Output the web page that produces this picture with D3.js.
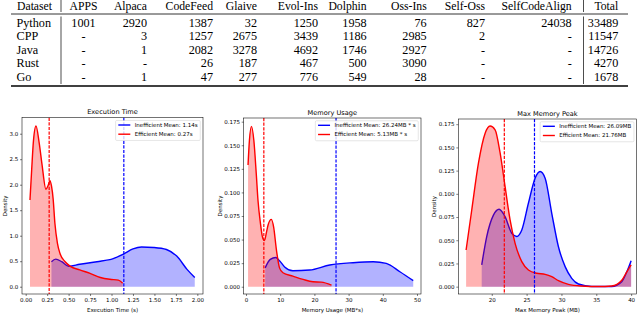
<!DOCTYPE html>
<html>
<head>
<meta charset="utf-8">
<script src="https://cdnjs.cloudflare.com/ajax/libs/d3/7.8.5/d3.min.js"></script>
<style>
body { margin: 0; background: #fff; }
svg { display: block; }
</style>
</head>
<body>
<svg width="640" height="314"></svg>
<script>
//Table data
var datasets = ['APPS', 'Alpaca', 'CodeFeed', 'Glaive', 'Evol-Ins', 'Dolphin', 'Oss-Ins', 'Self-Oss', 'SelfCodeAlign', 'Total'];
var languages = ['Python', 'CPP', 'Java', 'Rust', 'Go'];
var pythonCounts = ['1001', '2920', '1387', '32', '1250', '1958', '76', '827', '24038', '33489'];
var cppCounts = ['-', '3', '1257', '2675', '3439', '1186', '2985', '2', '-', '11547'];
var javaCounts = ['-', '1', '2082', '3278', '4692', '1746', '2927', '-', '-', '14726'];
var rustCounts = ['-', '-', '26', '187', '467', '500', '3090', '-', '-', '4270'];
var goCounts = ['-', '1', '47', '277', '776', '549', '28', '-', '-', '1678'];

//Density curves, [value, density]
var execInefficient = [[0.30,0.49],[0.35,0.54],[0.42,0.49],[0.50,0.40],[0.63,0.44],[0.83,0.49],[1.02,0.55],
    [1.14,0.64],[1.25,0.74],[1.35,0.78],[1.49,0.77],[1.64,0.73],[1.76,0.60],[1.88,0.34],[1.97,0.18]];
var execEfficient = [[0.05,1.70],[0.07,2.30],[0.09,2.85],[0.12,3.15],[0.158,2.81],[0.19,2.40],[0.236,1.91],
    [0.26,1.98],[0.283,2.08],[0.30,1.98],[0.32,1.72],[0.34,1.25],[0.37,0.85],[0.40,0.65],[0.46,0.49],
    [0.52,0.40],[0.63,0.33],[0.75,0.26],[0.87,0.18],[0.98,0.145],[1.08,0.13],[1.13,0.07]];
var memInefficient = [[5.6,0.020],[7.1,0.029],[8.7,0.031],[9.8,0.0276],[11.3,0.021],[13.7,0.017],[18.6,0.0177],
    [24.5,0.023],[31.3,0.0255],[37.2,0.0265],[41.0,0.0247],[45.0,0.0159],[48.9,0.0064]];
var memEfficient = [[0.6,0.129],[1.0,0.155],[1.6,0.170],[2.3,0.155],[3.0,0.120],[3.5,0.092],[4.2,0.068],
    [4.8,0.053],[5.4,0.049],[6.0,0.058],[6.5,0.066],[7.4,0.0714],[8.1,0.063],[8.9,0.039],[9.8,0.020],
    [10.8,0.0148],[13.7,0.0113],[16.7,0.0078],[19.6,0.0053],[22.0,0.0049],[25.0,0.0018]];
var peakInefficient = [[18.56,0.0234],[19.28,0.054],[20.24,0.077],[21.05,0.0834],[21.91,0.0755],[22.87,0.0575],
    [23.59,0.054],[24.31,0.061],[25.26,0.0898],[26.22,0.1168],[26.94,0.124],[27.66,0.1168],[28.61,0.079],
    [29.57,0.043],[30.53,0.0216],[31.48,0.009],[32.44,0.0029],[34.35,0.0002],[37.2,0.0002],[38.66,0.0054],
    [39.38,0.016],[40.0,0.028]];
var peakEfficient = [[16.32,0.0395],[17.13,0.0826],[18.09,0.133],[19.04,0.165],[19.76,0.173],[20.48,0.169],
    [21.2,0.144],[21.91,0.108],[22.63,0.0719],[23.35,0.0467],[24.31,0.027],[25.26,0.018],[26.46,0.0144],
    [27.66,0.0133],[28.61,0.0108],[29.57,0.0065],[31.0,0.0025],[32.9,0.0007],[35.3,0.0001],[37.2,0.0007],
    [38.66,0.007],[39.38,0.016],[40.0,0.0234]];

//Means [inefficient, efficient]
var execMeans = [1.14, 0.27];
var memMeans = [26.24, 5.13];
var peakMeans = [26.09, 21.76];

//Tick labels
var execXTicks = [0, 0.25, 0.5, 0.75, 1.0, 1.25, 1.5, 1.75, 2.0];
var execYTicks = [0, 0.5, 1.0, 1.5, 2.0, 2.5, 3.0];
var memXTicks = [0, 10, 20, 30, 40, 50];
var peakXTicks = [20, 25, 30, 35, 40];
var densityTicks = [0, 0.025, 0.05, 0.075, 0.1, 0.125, 0.15, 0.175];

var svg = d3.select('svg');
var serif = '"Liberation Serif", "Times New Roman", serif';
var sans = '"DejaVu Sans", sans-serif';

//---------------- Table ----------------
var tableRows = [pythonCounts, cppCounts, javaCounts, rustCounts, goCounts];
var colX = [83.5, 147, 213, 257, 318, 366.7, 426.7, 485, 571.7, 618.3];
var rowY = d3.scalePoint().domain(languages).range([27, 80.5]);
var tableG = svg.append('g').attr('font-family', serif).attr('font-size', 12.2);

var hdrG = tableG.append('g').attr('font-size', 11.7);
hdrG.append('text').attr('x', 17).attr('y', 10.3).text('Dataset');
hdrG.selectAll('.hdr').data(datasets).enter().append('text')
    .attr('class', 'hdr')
    .attr('x', function(d, i) { return colX[i]; })
    .attr('y', 10.3)
    .attr('text-anchor', function(d, i) { return i === 0 ? 'middle' : 'end'; })
    .text(function(d) { return d; });

var rowG = tableG.selectAll('.row').data(tableRows).enter().append('g')
    .attr('class', 'row')
    .attr('transform', function(d, i) { return 'translate(0,' + rowY(languages[i]) + ')'; });
rowG.append('text').attr('x', 16.5).text(function(d, i) { return languages[i]; });
rowG.selectAll('.cell').data(function(d) { return d; }).enter().append('text')
    .attr('class', 'cell')
    .attr('x', function(d, i) { return colX[i]; })
    .attr('text-anchor', function(d, i) { return i === 0 ? 'middle' : 'end'; })
    .text(function(d) { return d; });

//rules
tableG.append('line').attr('x1', 11).attr('x2', 628).attr('y1', 14).attr('y2', 14)
    .attr('stroke', '#000').attr('stroke-width', 0.8);
tableG.append('line').attr('x1', 11).attr('x2', 628).attr('y1', 86).attr('y2', 86)
    .attr('stroke', '#000').attr('stroke-width', 1.3);
[61, 583.5].forEach(function(x) {
    tableG.append('line').attr('x1', x).attr('x2', x).attr('y1', 0).attr('y2', 12)
        .attr('stroke', '#000').attr('stroke-width', 0.7);
    tableG.append('line').attr('x1', x).attr('x2', x).attr('y1', 16.5).attr('y2', 84)
        .attr('stroke', '#000').attr('stroke-width', 0.7);
});

//---------------- Density panels ----------------
var panels = [
    {frame: {l: 22, r: 203, t: 117.7, b: 294}, xlim: [-0.043, 2.066], ylim: [-0.143, 3.314],
     xTicks: execXTicks, yTicks: execYTicks, xFmt: '.2f', yFmt: '.1f',
     ineff: execInefficient, eff: execEfficient, means: execMeans,
     title: 'Execution Time', xLabel: 'Execution Time (s)',
     legend: ['Inefficient Mean: 1.14s', 'Efficient Mean: 0.27s']},
    {frame: {l: 243.7, r: 421, t: 118, b: 294}, xlim: [-0.67, 51.17], ylim: [-0.0077, 0.1789],
     xTicks: memXTicks, yTicks: densityTicks, xFmt: 'd', yFmt: '.3f',
     ineff: memInefficient, eff: memEfficient, means: memMeans,
     title: 'Memory Usage', xLabel: 'Memory Usage (MB*s)',
     legend: ['Inefficient Mean: 26.24MB * s', 'Efficient Mean: 5.13MB * s']},
    {frame: {l: 458.3, r: 636.7, t: 119, b: 294}, xlim: [15.2, 40.8], ylim: [-0.0079, 0.1806],
     xTicks: peakXTicks, yTicks: densityTicks, xFmt: 'd', yFmt: '.3f',
     ineff: peakInefficient, eff: peakEfficient, means: peakMeans,
     title: 'Max Memory Peak', xLabel: 'Max Memory Peak (MB)',
     legend: ['Inefficient Mean: 26.09MB', 'Efficient Mean: 21.76MB']}
];

var fs = 5.5;
var seriesColors = ['#0000ff', '#ff0000'];
var fillColors = ['rgba(0,0,255,0.3)', 'rgba(255,0,0,0.3)'];

panels.forEach(function(p) {
    var f = p.frame;
    var x = d3.scaleLinear().domain(p.xlim).range([f.l, f.r]);
    var y = d3.scaleLinear().domain(p.ylim).range([f.b, f.t]);
    var g = svg.append('g').attr('font-family', sans);

    var area = d3.area().curve(d3.curveMonotoneX)
        .x(function(d) { return x(d[0]); })
        .y0(y(0))
        .y1(function(d) { return y(d[1]); });
    var line = d3.line().curve(d3.curveMonotoneX)
        .x(function(d) { return x(d[0]); })
        .y(function(d) { return y(d[1]); });

    [p.ineff, p.eff].forEach(function(s, i) {
        g.append('path').datum(s).attr('d', area).attr('fill', fillColors[i]);
        g.append('path').datum(s).attr('d', line).attr('fill', 'none')
            .attr('stroke', seriesColors[i]).attr('stroke-width', 1.4);
    });

    //mean lines
    g.selectAll('.mean').data(p.means).enter().append('line')
        .attr('class', 'mean')
        .attr('x1', function(d) { return x(d) + 0.3; })
        .attr('x2', function(d) { return x(d) + 0.3; })
        .attr('y1', f.t).attr('y2', f.b)
        .attr('stroke', function(d, i) { return seriesColors[i]; })
        .attr('stroke-width', 1.2)
        .attr('stroke-dasharray', '3.2,1.4');

    //axes
    var xAxis = g.append('g').attr('transform', 'translate(0,' + f.b + ')')
        .call(d3.axisBottom(x).tickValues(p.xTicks).tickFormat(d3.format(p.xFmt)).tickSize(2).tickPadding(1.8));
    var yAxis = g.append('g').attr('transform', 'translate(' + f.l + ',0)')
        .call(d3.axisLeft(y).tickValues(p.yTicks).tickFormat(d3.format(p.yFmt)).tickSize(2).tickPadding(1.8));
    [xAxis, yAxis].forEach(function(a) {
        a.select('.domain').remove();
        a.attr('font-size', fs).attr('font-family', sans);
        a.selectAll('line').attr('stroke', '#000').attr('stroke-width', 0.5);
        a.selectAll('text').attr('fill', '#000');
    });

    g.append('rect').attr('x', f.l).attr('y', f.t).attr('width', f.r - f.l).attr('height', f.b - f.t)
        .attr('fill', 'none').attr('stroke', '#000').attr('stroke-width', 0.55);

    //labels
    g.append('text').attr('x', (f.l + f.r) / 2).attr('y', f.t - 3.4)
        .attr('text-anchor', 'middle').attr('font-size', 6.6).text(p.title);
    g.append('text').attr('x', (f.l + f.r) / 2).attr('y', 312)
        .attr('text-anchor', 'middle').attr('font-size', fs).text(p.xLabel);
    var maxW = d3.max(yAxis.selectAll('text').nodes(), function(n) { return n.getComputedTextLength(); });
    var lx = f.l - 3.8 - maxW - 4.5;
    g.append('text').attr('transform', 'translate(' + lx + ',' + ((f.t + f.b) / 2) + ')rotate(-90)')
        .attr('text-anchor', 'middle').attr('dy', '0.35em').attr('font-size', fs).text('Density');

    //legend
    var lg = g.append('g');
    var box = lg.append('rect').attr('rx', 1.2)
        .attr('fill', 'rgba(255,255,255,0.8)').attr('stroke', '#cccccc').attr('stroke-width', 0.5);
    var texts = lg.selectAll('.lt').data(p.legend).enter().append('text')
        .attr('class', 'lt').attr('font-size', fs).attr('dy', '0.35em')
        .attr('y', function(d, i) { return f.t + 7.3 + i * 9.2; })
        .text(function(d) { return d; });
    var tw = d3.max(texts.nodes(), function(n) { return n.getComputedTextLength(); });
    var bw = 2.7 + 12 + 4.4 + tw + 2.7;
    var bx = f.r - 2.75 - bw;
    box.attr('x', bx).attr('y', f.t + 2.75).attr('width', bw).attr('height', 20);
    texts.attr('x', bx + 2.7 + 12 + 4.4);
    lg.selectAll('.lh').data(p.legend).enter().append('line')
        .attr('x1', bx + 2.7).attr('x2', bx + 14.7)
        .attr('y1', function(d, i) { return f.t + 7.3 + i * 9.2; })
        .attr('y2', function(d, i) { return f.t + 7.3 + i * 9.2; })
        .attr('stroke', function(d, i) { return seriesColors[i]; })
        .attr('stroke-width', 1.4);
});
</script>
</body>
</html>
